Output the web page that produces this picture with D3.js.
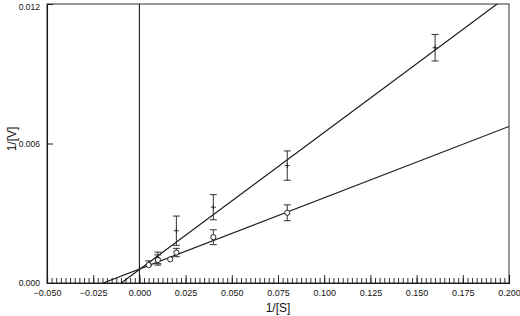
<!DOCTYPE html>
<html>
<head>
<meta charset="utf-8">
<script src="https://cdn.jsdelivr.net/npm/d3@7"></script>
<style>
  html, body { margin: 0; padding: 0; background: #fff; }
  svg { display: block; font-family: "Liberation Sans", Arial, sans-serif; }
</style>
</head>
<body>
<svg id="chart" width="520" height="316"></svg>
<script>
// ---- data ----
const xTicks = [-0.050, -0.025, 0.000, 0.025, 0.050, 0.075, 0.100, 0.125, 0.150, 0.175, 0.200];
const yTicks = [0.000, 0.006, 0.012];

// series A (plus markers, steeper line)
const xA   = [0.005, 0.010, 0.020, 0.040, 0.080, 0.160];
const yA   = [0.00085, 0.00108, 0.00225, 0.00326, 0.00505, 0.01012];
const errA = [0.00010, 0.00025, 0.00063, 0.00054, 0.00063, 0.00057];

// series B (open circles, shallower line)
const xB   = [0.005, 0.010, 0.0167, 0.020, 0.040, 0.080];
const yB   = [0.00077, 0.00099, 0.00102, 0.00131, 0.00197, 0.00302];
const errB = [0.00000, 0.00022, 0.00000, 0.00018, 0.00032, 0.00034];

// fitted lines: y = slope * x + intercept
const fitSlopes     = [0.0590, 0.03066];
const fitIntercepts = [0.00058, 0.00060];

// ---- layout ----
const svg = d3.select("#chart");
const L = 47, R = 509, T = 4, B = 283;
const x = d3.scaleLinear().domain([-0.05, 0.2]).range([L, R]);
const y = d3.scaleLinear().domain([0, 0.012]).range([B, T]);
const ink = "#1a1a1a";

svg.append("defs").append("clipPath").attr("id", "plot")
  .append("rect").attr("x", L).attr("y", T).attr("width", R - L).attr("height", B - T);

// frame
svg.append("rect").attr("x", L).attr("y", T).attr("width", R - L).attr("height", B - T)
  .attr("fill", "none").attr("stroke", "#444").attr("stroke-width", 1.1);

// x axis: minor ticks every 0.0025, major every 0.025, pointing inward
const minor = d3.range(0, 101).map(i => -0.05 + i * 0.0025);
const xAxis = d3.axisBottom(x).tickValues(minor).tickSize(-5).tickFormat("");
const gx = svg.append("g").attr("transform", `translate(0,${B})`).call(xAxis);
gx.select(".domain").remove();
gx.selectAll(".tick line").attr("stroke", ink).attr("stroke-width", 0.9);
const xMajor = d3.axisBottom(x).tickValues(xTicks).tickSize(-8).tickPadding(5)
  .tickFormat(d3.format(".3f"));
const gx2 = svg.append("g").attr("transform", `translate(0,${B})`).call(xMajor);
gx2.select(".domain").attr("stroke", ink).attr("stroke-width", 1.1);
gx2.selectAll(".tick line").attr("stroke", ink).attr("stroke-width", 0.9);
gx2.selectAll(".tick text").attr("font-size", 9).attr("fill", "#111")
  .attr("font-family", "Liberation Sans, Arial, sans-serif").attr("dy", "0.85em");

// y axis
const yAxis = d3.axisLeft(y).tickValues(yTicks).tickSize(-6).tickPadding(7)
  .tickFormat(d3.format(".3f"));
const gy = svg.append("g").attr("transform", `translate(${L},0)`).call(yAxis);
gy.select(".domain").attr("stroke", ink).attr("stroke-width", 1.1);
gy.selectAll(".tick line").attr("stroke", ink);
gy.selectAll(".tick text").attr("font-size", 8.5).attr("fill", "#111")
  .attr("font-family", "Liberation Sans, Arial, sans-serif")
  .attr("dy", d => d === 0.012 ? "0.7em" : "0.32em");

// vertical line at x = 0
svg.append("line").attr("x1", x(0)).attr("x2", x(0)).attr("y1", B).attr("y2", T)
  .attr("stroke", ink).attr("stroke-width", 1.1);

// fitted lines (clipped to the plot, from y = 0)
const plot = svg.append("g").attr("clip-path", "url(#plot)");
fitSlopes.forEach((m, i) => {
  const b = fitIntercepts[i];
  const x0 = -b / m;
  plot.append("line")
    .attr("x1", x(x0)).attr("y1", y(0))
    .attr("x2", x(0.2)).attr("y2", y(m * 0.2 + b))
    .attr("stroke", ink).attr("stroke-width", 1.2);
});

// error bars
function errorBars(xs, ys, es) {
  const g = svg.append("g").attr("stroke", "#333").attr("stroke-width", 1);
  xs.forEach((xv, i) => {
    if (!es[i]) return;
    const cx = x(xv), y1 = y(ys[i] - es[i]), y2 = y(ys[i] + es[i]);
    g.append("line").attr("x1", cx).attr("x2", cx).attr("y1", y1).attr("y2", y2);
    g.append("line").attr("x1", cx - 3.5).attr("x2", cx + 3.5).attr("y1", y1).attr("y2", y1);
    g.append("line").attr("x1", cx - 3.5).attr("x2", cx + 3.5).attr("y1", y2).attr("y2", y2);
  });
}
errorBars(xA, yA, errA);
errorBars(xB, yB, errB);

// plus markers
const gp = svg.append("g").attr("stroke", "#222").attr("stroke-width", 0.9);
xA.forEach((xv, i) => {
  const cx = x(xv), cy = y(yA[i]);
  gp.append("line").attr("x1", cx - 2.5).attr("x2", cx + 2.5).attr("y1", cy).attr("y2", cy);
  gp.append("line").attr("x1", cx).attr("x2", cx).attr("y1", cy - 2.5).attr("y2", cy + 2.5);
});

// circle markers
svg.append("g").selectAll("circle").data(xB).join("circle")
  .attr("cx", d => x(d)).attr("cy", (d, i) => y(yB[i])).attr("r", 2.6)
  .attr("fill", "#fff").attr("stroke", "#222").attr("stroke-width", 1);

// axis titles
svg.append("text").attr("x", 278).attr("y", 312).attr("text-anchor", "middle")
  .attr("font-size", 12).attr("fill", "#111").text("1/[S]");
svg.append("text").attr("transform", "translate(16,139) rotate(-90)")
  .attr("text-anchor", "middle").attr("font-size", 12).attr("fill", "#111").text("1/[V]");
</script>
</body>
</html>
